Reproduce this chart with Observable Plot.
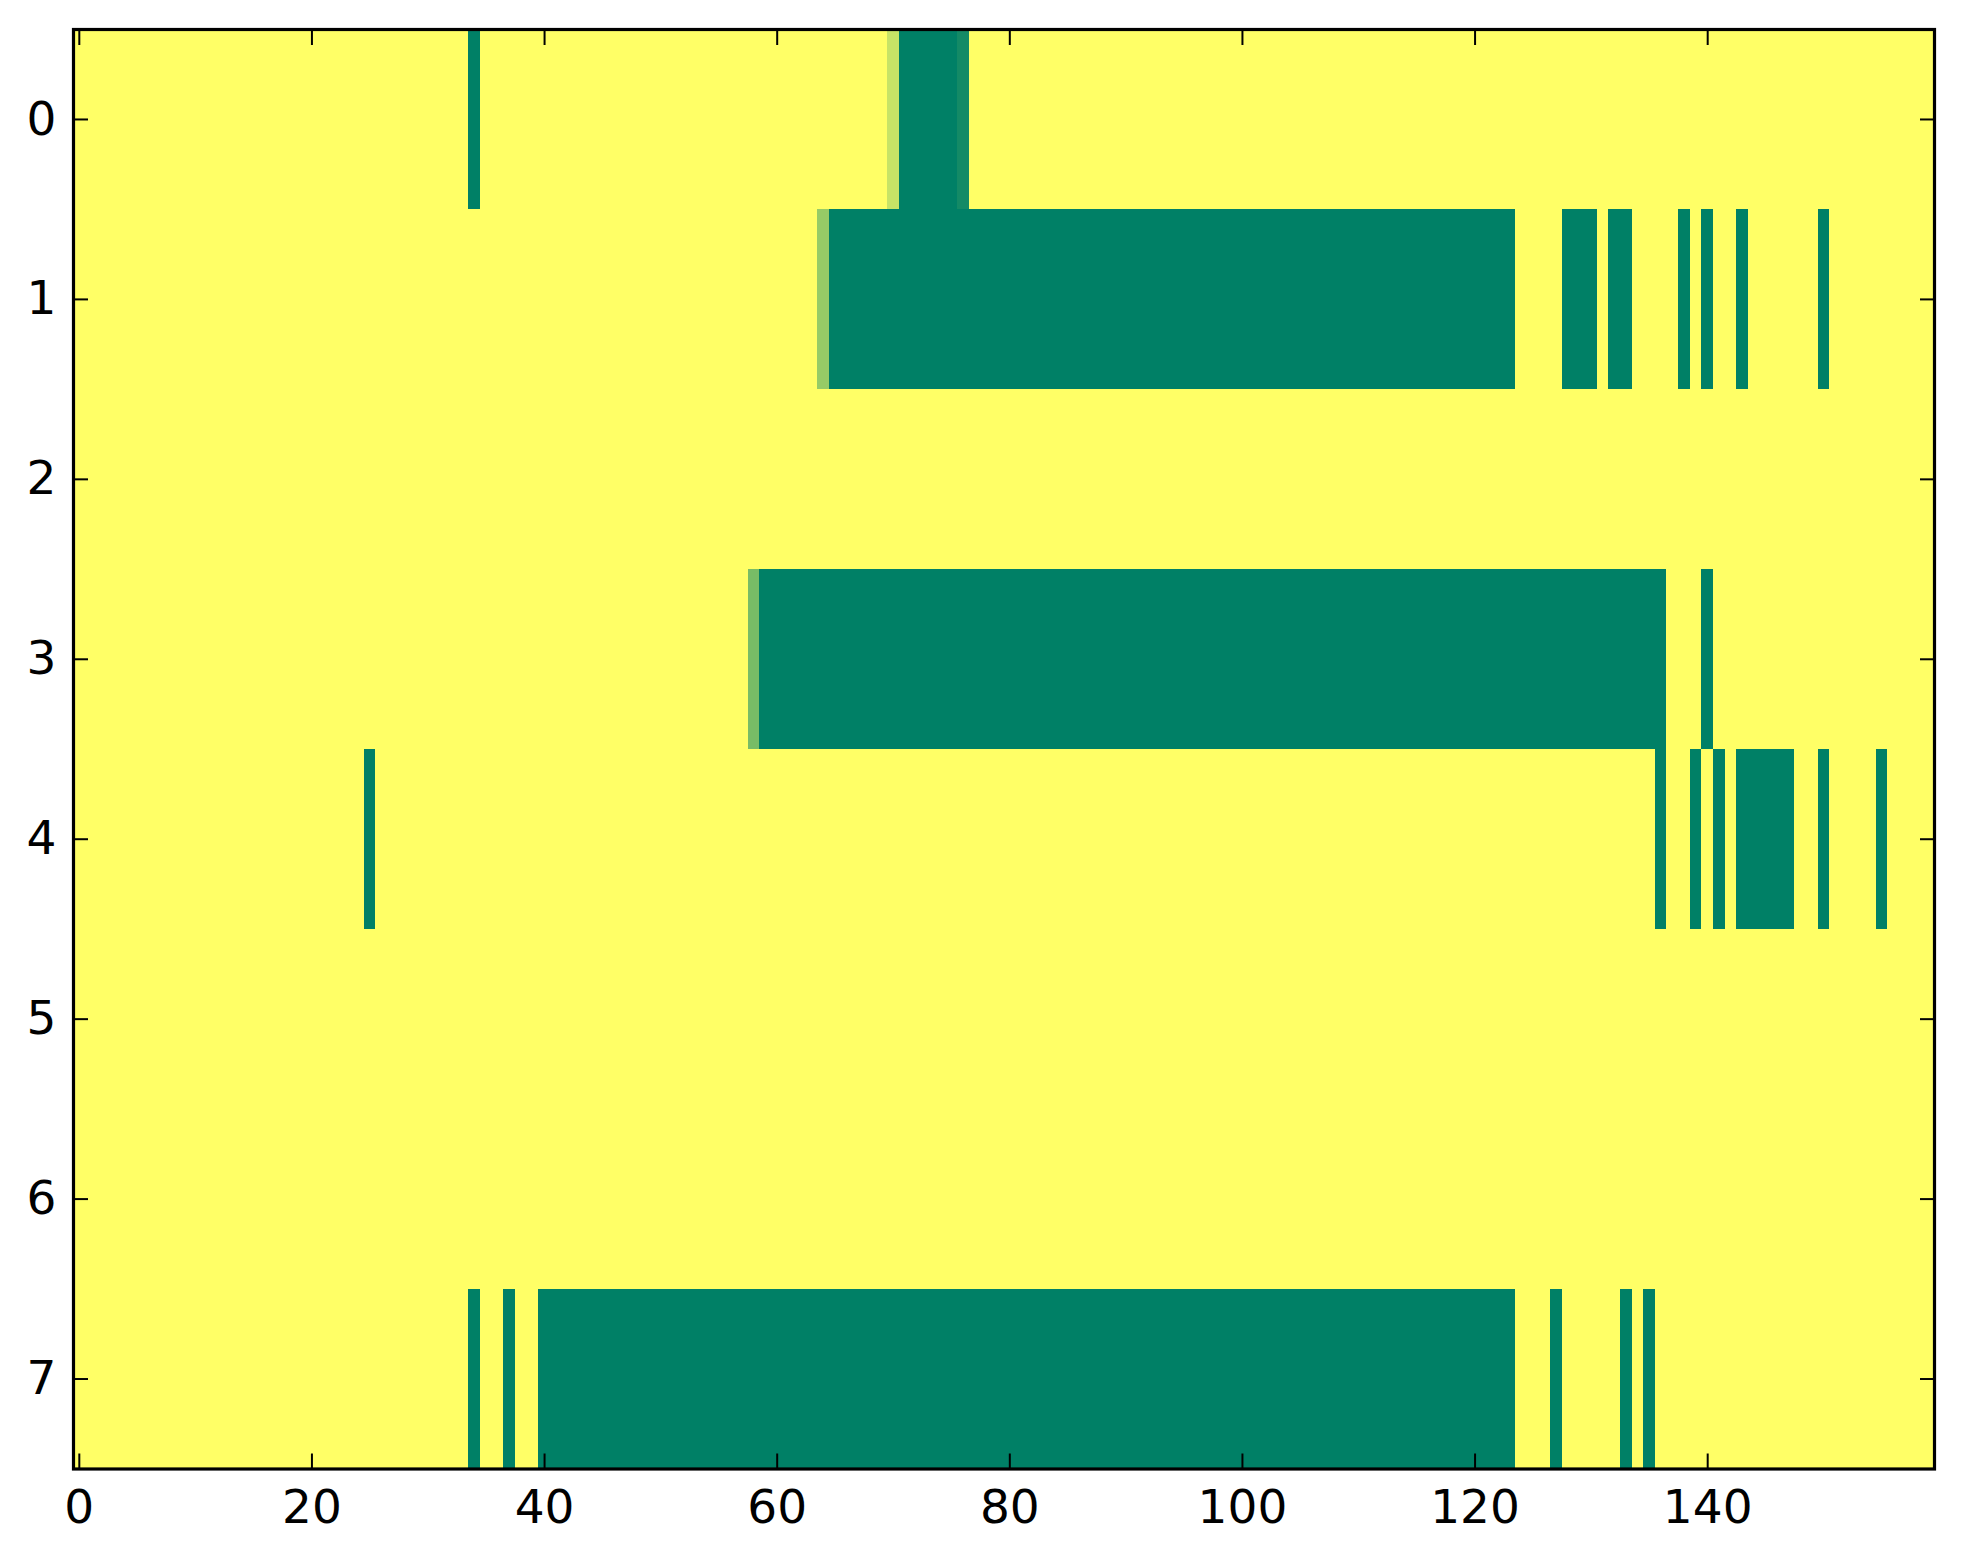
<!DOCTYPE html>
<html><head><meta charset="utf-8">
<script src="https://cdn.jsdelivr.net/npm/d3@7"></script>
<script src="https://cdn.jsdelivr.net/npm/@observablehq/plot@0.6"></script>
<style>html,body{margin:0;padding:0;background:#fff;overflow:hidden}#chart svg{display:block}</style>
</head><body><div id="chart"></div>
<script>
const nCols = 160;
const yTicks = [0, 1, 2, 3, 4, 5, 6, 7];
const xTicks = [0, 20, 40, 60, 80, 100, 120, 140];
// runs of [firstColumn, lastColumn, value] for each row; every other cell is 0
const row0 = [[34, 34, 1], [70, 70, 0.22], [71, 75, 1], [76, 76, 0.92]];
const row1 = [[64, 64, 0.41], [65, 123, 1], [128, 130, 1], [132, 133, 1], [138, 138, 1], [140, 140, 1], [143, 143, 1], [150, 150, 1]];
const row2 = [];
const row3 = [[58, 58, 0.53], [59, 136, 1], [140, 140, 1]];
const row4 = [[25, 25, 1], [136, 136, 1], [139, 139, 1], [141, 141, 1], [143, 147, 1], [150, 150, 1], [155, 155, 1]];
const row5 = [];
const row6 = [];
const row7 = [[34, 34, 1], [37, 37, 1], [40, 123, 1], [127, 127, 1], [133, 133, 1], [135, 135, 1]];
const rows = [row0, row1, row2, row3, row4, row5, row6, row7];

const cells = [];
rows.forEach((runs, r) => {
  const vals = new Array(nCols).fill(0);
  for (const [a, b, v] of runs) for (let c = a; c <= b; c++) vals[c] = v;
  vals.forEach((v, c) => cells.push({row: r, col: c, value: v}));
});

const chart = Plot.plot({
  width: 1963, height: 1564,
  marginLeft: 73, marginRight: 29, marginTop: 29, marginBottom: 95.5,
  x: {domain: [-0.5, nCols - 0.5]},
  y: {domain: [-0.5, rows.length - 0.5], reverse: true},
  color: {type: "linear", domain: [0, 1], range: ["#ffff66", "#008066"], interpolate: "rgb"},
  style: {fontFamily: "DejaVu Sans", fontSize: "47px", background: "white", color: "black"},
  marks: [
    Plot.rect(cells, {x1: d => d.col - 0.5, x2: d => d.col + 0.5, y1: d => d.row - 0.5, y2: d => d.row + 0.5, fill: "value", shapeRendering: "crispEdges"}),
    Plot.axisX({anchor: "bottom", ticks: xTicks, tickSize: -15, tickPadding: 36, strokeWidth: 2, fontSize: 47, label: null}),
    Plot.axisX({anchor: "top", ticks: xTicks, tickSize: -15, tickFormat: () => "", strokeWidth: 2, label: null}),
    Plot.axisY({anchor: "left", ticks: yTicks, tickSize: -15, tickPadding: 32, strokeWidth: 2, fontSize: 47, label: null}),
    Plot.axisY({anchor: "right", ticks: yTicks, tickSize: -15, tickFormat: () => "", strokeWidth: 2, label: null}),
    Plot.frame({stroke: "black", strokeWidth: 3.2})
  ]
});
document.getElementById("chart").appendChild(chart);
</script>
</body></html>
